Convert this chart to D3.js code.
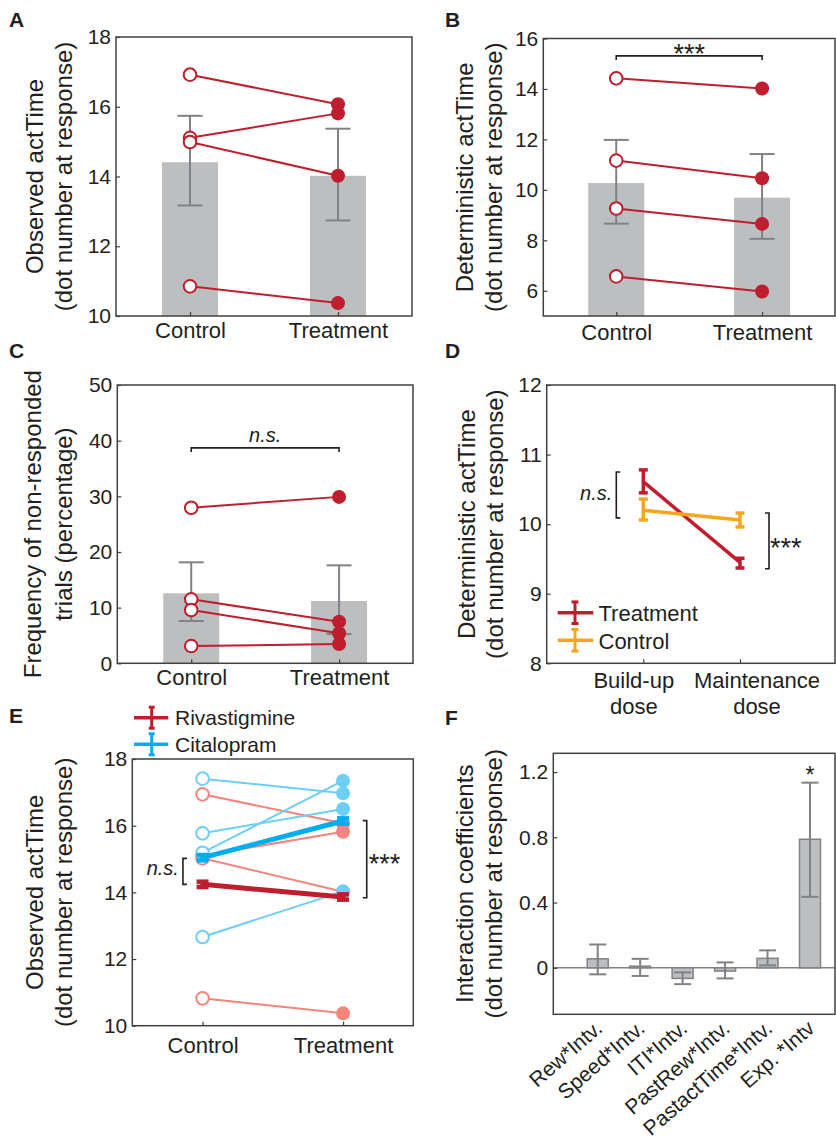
<!DOCTYPE html>
<html><head><meta charset="utf-8">
<script src="https://cdn.jsdelivr.net/npm/d3@7"></script>
<style>body{margin:0;background:#fff} text{font-family:'Liberation Sans',Arial,Helvetica,sans-serif}</style>
</head><body>
<script>
// ---------------- DATA ----------------
const groups = ["Control", "Treatment"];

// Panel A: Observed actTime
const aMeans = [14.41, 14.02];
const aErrLow = [13.17, 12.74];
const aErrHigh = [15.74, 15.37];
const aControl = [16.92, 15.11, 14.99, 10.85];
const aTreatment = [16.07, 15.81, 14.02, 10.37];
const aYTicks = [10, 12, 14, 16, 18];

// Panel B: Deterministic actTime
const bMeans = [10.27, 9.69];
const bErrLow = [8.66, 8.06];
const bErrHigh = [11.98, 11.42];
const bControl = [14.42, 11.16, 9.26, 6.57];
const bTreatment = [14.02, 10.46, 8.65, 5.97];
const bYTicks = [6, 8, 10, 12, 14, 16];
const bSigLevel = 15.31;

// Panel C: Frequency of non-responded trials
const cMeans = [12.57, 11.19];
const cErrLow = [7.6, 5.27];
const cErrHigh = [18.14, 17.6];
const cControl = [27.95, 11.5, 9.58, 3.1];
const cTreatment = [29.9, 7.47, 5.39, 3.47];
const cYTicks = [0, 10, 20, 30, 40, 50];
const cSigLevel = 38.7;

// Panel D: dose phases
const doses = ["Build-up", "Maintenance"];
const doseLine2 = ["dose", "dose"];
const dTreatMean = [10.61, 9.45];
const dTreatLow = [10.45, 9.37];
const dTreatHigh = [10.78, 9.51];
const dCtrlMean = [10.20, 10.06];
const dCtrlLow = [10.06, 9.96];
const dCtrlHigh = [10.36, 10.16];
const dYTicks = [8, 9, 10, 11, 12];
const dNsRange = [10.09, 10.75];
const dSigRange = [9.36, 10.16];

// Panel E: Rivastigmine vs Citalopram
const eRivControl = [16.94, 15.10, 15.02, 10.82];
const eRivTreatment = [16.07, 15.82, 14.02, 10.37];
const eCitControl = [17.41, 15.77, 15.19, 12.66];
const eCitTreatment = [16.97, 16.50, 17.35, 14.03];
const eRivMean = [14.24, 13.86];
const eCitMean = [15.04, 16.14];
const eMeanErr = [0.08, 0.08];
const eYTicks = [10, 12, 14, 16, 18];
const eNsRange = [14.24, 15.02];
const eSigRange = [13.84, 16.15];

// Panel F: interaction coefficients
const fTerms = ["Rew*Intv.", "Speed*Intv.", "ITI*Intv.", "PastRew*Intv.", "PastactTime*Intv.", "Exp. *Intv"];
const fCoef = [0.055, 0.010, -0.065, -0.020, 0.058, 0.788];
const fLow = [-0.040, -0.050, -0.100, -0.065, 0.015, 0.435];
const fHigh = [0.143, 0.055, -0.028, 0.033, 0.107, 1.135];
const fYTicks = [0, 0.4, 0.8, 1.2];

// ---------------- DRAWING ----------------
const COL = {red:"#be1e2d", salmon:"#f3857c", lblue:"#6dcff6", blue:"#00aeef", orange:"#f8a51e",
             bar:"#bcbec0", err:"#808285", axis:"#404040", text:"#231f20"};
const FONT = "'Liberation Sans', Arial, Helvetica, sans-serif";

const svg = d3.select("body").append("svg").attr("width", 836).attr("height", 1143).style("display","block");

function yAxis(y, x0, ticks, fmt) {
  const g = svg.append("g").attr("transform", `translate(${x0},0)`)
    .call(d3.axisLeft(y).tickValues(ticks).tickSizeInner(-4).tickSizeOuter(0).tickPadding(5).tickFormat(fmt || d3.format("d")));
  g.attr("font-family", FONT).attr("font-size", 21);
  g.select(".domain").remove();
  g.selectAll(".tick line").attr("stroke", COL.axis).attr("stroke-width", 1.2);
  g.selectAll(".tick text").attr("fill", COL.text);
  return g;
}
function xAxis(x, yB, base, fs) {
  const g = svg.append("g").attr("transform", `translate(0,${yB})`)
    .call(d3.axisBottom(x).tickSizeInner(-4).tickSizeOuter(0));
  g.attr("font-family", FONT).attr("font-size", fs || 22);
  g.select(".domain").remove();
  g.selectAll(".tick line").attr("stroke", COL.axis).attr("stroke-width", 1.2);
  g.selectAll(".tick text").attr("fill", COL.text).attr("y", base).attr("dy", 0);
  return g;
}
function box(x0, x1, y0, y1) {
  svg.append("rect").attr("x", x0).attr("y", y0).attr("width", x1 - x0).attr("height", y1 - y0)
    .attr("fill", "none").attr("stroke", COL.axis).attr("stroke-width", 1.5);
}
function yLabel(lines, xs, yc) {
  lines.forEach((t, i) => svg.append("text")
    .attr("transform", `translate(${xs[i]},${yc}) rotate(-90)`)
    .attr("text-anchor", "middle").attr("font-size", 24).attr("fill", COL.text).text(t));
}
function letter(t, x, y) {
  svg.append("text").attr("x", x).attr("y", y).attr("font-size", 21).attr("font-weight", "bold").attr("fill", COL.text).text(t);
}
function errBar(g, x, yLo, yHi, cap, color, sw) {
  g.append("line").attr("x1", x).attr("x2", x).attr("y1", yLo).attr("y2", yHi).attr("stroke", color).attr("stroke-width", sw);
  [yLo, yHi].forEach(yy => g.append("line").attr("x1", x - cap / 2).attr("x2", x + cap / 2).attr("y1", yy).attr("y2", yy)
    .attr("stroke", color).attr("stroke-width", sw));
}

function pairedPanel(c) {
  const y = d3.scaleLinear().domain(c.domain).range([c.y1, c.y0]);
  const x = d3.scalePoint().domain(groups).range([c.x0, c.x1]).padding(0.5);
  const g = svg.append("g");
  groups.forEach((k, i) => {
    g.append("rect").attr("x", x(k) - 28).attr("width", 56).attr("y", y(c.means[i]))
      .attr("height", c.y1 - y(c.means[i])).attr("fill", COL.bar);
  });
  groups.forEach((k, i) => errBar(g, x(k), y(c.lo[i]), y(c.hi[i]), 25, COL.err, 2));
  c.ctrl.forEach((v, i) => g.append("line").attr("x1", x("Control")).attr("y1", y(v))
    .attr("x2", x("Treatment")).attr("y2", y(c.trt[i])).attr("stroke", COL.red).attr("stroke-width", 2));
  c.ctrl.forEach(v => g.append("circle").attr("cx", x("Control")).attr("cy", y(v)).attr("r", 6.3)
    .attr("fill", "#fff").attr("stroke", COL.red).attr("stroke-width", 2));
  c.trt.forEach(v => g.append("circle").attr("cx", x("Treatment")).attr("cy", y(v)).attr("r", 7)
    .attr("fill", COL.red));
  if (c.sig != null) {
    const yy = y(c.sig);
    g.append("path").attr("d", `M${x("Control")},${yy + 4}V${yy}H${x("Treatment")}V${yy + 4}`)
      .attr("fill", "none").attr("stroke", COL.text).attr("stroke-width", 1.6);
    g.append("text").attr("x", (x("Control") + x("Treatment")) / 2).attr("y", yy + c.sigDy)
      .attr("text-anchor", "middle").attr("font-size", c.sigSize).attr("font-style", c.sigItalic ? "italic" : "normal")
      .attr("fill", COL.text).text(c.sigText);
  }
  yAxis(y, c.x0, c.ticks);
  xAxis(x, c.y1, c.xBase);
  box(c.x0, c.x1, c.y0, c.y1);
  yLabel(c.label, c.labelX, (c.y0 + c.y1) / 2);
  letter(c.letter, c.lx, c.ly);
}

pairedPanel({x0:116, x1:412, y0:37, y1:316, domain:[10,18], ticks:aYTicks, means:aMeans, lo:aErrLow, hi:aErrHigh,
  ctrl:aControl, trt:aTreatment, sig:null, xBase:22, label:["Observed actTime","(dot number at response)"],
  labelX:[43, 72], letter:"A", lx:9, ly:27});
pairedPanel({x0:543.3, x1:835, y0:38.5, y1:316, domain:[5,16], ticks:bYTicks, means:bMeans, lo:bErrLow, hi:bErrHigh,
  ctrl:bControl, trt:bTreatment, sig:bSigLevel, sigText:"***", sigDy:7, sigSize:27, sigItalic:false, xBase:24,
  label:["Deterministic actTime","(dot number at response)"], labelX:[473, 502], letter:"B", lx:445, ly:27});
pairedPanel({x0:117.3, x1:413, y0:385, y1:663.3, domain:[0,50], ticks:cYTicks, means:cMeans, lo:cErrLow, hi:cErrHigh,
  ctrl:cControl, trt:cTreatment, sig:cSigLevel, sigText:"n.s.", sigDy:-6, sigSize:20, sigItalic:true, xBase:22,
  label:["Frequency of non-responded","trials (percentage)"], labelX:[41, 72], letter:"C", lx:9, ly:358});

// ---- Panel D ----
(function(){
  const x0 = 546.7, x1 = 835, y0 = 385, y1 = 663.3;
  const y = d3.scaleLinear().domain([8, 12]).range([y1, y0]);
  const x = d3.scalePoint().domain(doses).range([643.3, 740]);
  const g = svg.append("g");
  const series = [
    {mean:dTreatMean, lo:dTreatLow, hi:dTreatHigh, color:COL.red, name:"Treatment"},
    {mean:dCtrlMean, lo:dCtrlLow, hi:dCtrlHigh, color:COL.orange, name:"Control"}];
  series.forEach(s => {
    g.append("path").attr("d", d3.line().x((v, i) => x(doses[i])).y(v => y(v))(s.mean))
      .attr("fill", "none").attr("stroke", s.color).attr("stroke-width", 3.5);
    s.mean.forEach((v, i) => errBar(g, x(doses[i]), y(s.lo[i]), y(s.hi[i]), 9, s.color, 3.5));
  });
  // brackets
  const bx = x(doses[0]) - 27;
  g.append("path").attr("d", `M${bx + 4},${y(dNsRange[1])}H${bx}V${y(dNsRange[0])}H${bx + 4}`)
    .attr("fill", "none").attr("stroke", COL.text).attr("stroke-width", 1.6);
  g.append("text").attr("x", bx - 4).attr("y", (y(dNsRange[0]) + y(dNsRange[1])) / 2 + 5.5)
    .attr("text-anchor", "end").attr("font-size", 20).attr("font-style", "italic").attr("fill", COL.text).text("n.s.");
  const sx = x(doses[1]) + 29;
  g.append("path").attr("d", `M${sx - 4},${y(dSigRange[1])}H${sx}V${y(dSigRange[0])}H${sx - 4}`)
    .attr("fill", "none").attr("stroke", COL.text).attr("stroke-width", 1.6);
  g.append("text").attr("x", sx + 1).attr("y", (y(dSigRange[0]) + y(dSigRange[1])) / 2 + 16.5)
    .attr("font-size", 27).attr("fill", COL.text).text("***");
  // legend
  series.forEach((s, i) => {
    const ly = 612.7 + i * 27.5;
    g.append("line").attr("x1", 557.7).attr("x2", 593.3).attr("y1", ly).attr("y2", ly).attr("stroke", s.color).attr("stroke-width", 3.5);
    errBar(g, 575, ly + 10.8, ly - 10.8, 7, s.color, 3);
    g.append("text").attr("x", 598.5).attr("y", ly + 8.5).attr("font-size", 22).attr("fill", COL.text).text(s.name);
  });
  yAxis(y, x0, dYTicks);
  const xa = xAxis(x, y1, 25);
  xa.selectAll(".tick text").remove();
  const off = [-9.5, 17];
  doses.forEach((d, i) => {
    svg.append("text").attr("x", x(d) + off[i]).attr("y", 688).attr("text-anchor", "middle")
      .attr("font-size", 22).attr("fill", COL.text).text(d);
    svg.append("text").attr("x", x(d) + off[i]).attr("y", 714).attr("text-anchor", "middle")
      .attr("font-size", 22).attr("fill", COL.text).text(doseLine2[i]);
  });
  box(x0, x1, y0, y1);
  yLabel(["Deterministic actTime", "(dot number at response)"], [475, 503], (y0 + y1) / 2);
  letter("D", 445, 358);
})();

// ---- Panel E ----
(function(){
  const x0 = 132.3, x1 = 413.3, y0 = 759, y1 = 1025.7;
  const y = d3.scaleLinear().domain([10, 18]).range([y1, y0]);
  const x = d3.scalePoint().domain(groups).range([x0, x1]).padding(0.5);
  const g = svg.append("g");
  function subjects(ctrl, trt, color) {
    ctrl.forEach((v, i) => g.append("line").attr("x1", x("Control")).attr("y1", y(v)).attr("x2", x("Treatment"))
      .attr("y2", y(trt[i])).attr("stroke", color).attr("stroke-width", 2));
    ctrl.forEach(v => g.append("circle").attr("cx", x("Control")).attr("cy", y(v)).attr("r", 6.3)
      .attr("fill", "#fff").attr("stroke", color).attr("stroke-width", 2));
    trt.forEach(v => g.append("circle").attr("cx", x("Treatment")).attr("cy", y(v)).attr("r", 7).attr("fill", color));
  }
  subjects(eRivControl, eRivTreatment, COL.salmon);
  subjects(eCitControl, eCitTreatment, COL.lblue);
  function meanLine(m, color) {
    g.append("line").attr("x1", x("Control")).attr("y1", y(m[0])).attr("x2", x("Treatment")).attr("y2", y(m[1]))
      .attr("stroke", color).attr("stroke-width", 5);
    m.forEach((v, i) => errBar(g, x(groups[i]), y(v - eMeanErr[i]), y(v + eMeanErr[i]), 12, color, 4.5));
  }
  meanLine(eRivMean, COL.red);
  meanLine(eCitMean, COL.blue);
  const bx = x("Control") - 19.6;
  g.append("path").attr("d", `M${bx + 4},${y(eNsRange[1])}H${bx}V${y(eNsRange[0])}H${bx + 4}`)
    .attr("fill", "none").attr("stroke", COL.text).attr("stroke-width", 1.6);
  g.append("text").attr("x", bx - 4).attr("y", (y(eNsRange[0]) + y(eNsRange[1])) / 2 + 4)
    .attr("text-anchor", "end").attr("font-size", 20).attr("font-style", "italic").attr("fill", COL.text).text("n.s.");
  const sx = x("Treatment") + 23.7;
  g.append("path").attr("d", `M${sx - 4},${y(eSigRange[1])}H${sx}V${y(eSigRange[0])}H${sx - 4}`)
    .attr("fill", "none").attr("stroke", COL.text).attr("stroke-width", 1.6);
  g.append("text").attr("x", sx + 2).attr("y", (y(eSigRange[0]) + y(eSigRange[1])) / 2 + 13.5)
    .attr("font-size", 27).attr("fill", COL.text).text("***");
  // legend
  [["Rivastigmine", COL.red], ["Citalopram", COL.blue]].forEach((d, i) => {
    const ly = 717.7 + i * 26.6;
    g.append("line").attr("x1", 134).attr("x2", 168.3).attr("y1", ly).attr("y2", ly).attr("stroke", d[1]).attr("stroke-width", 3.5);
    errBar(g, 151.7, ly + 10.5, ly - 10.5, 6, d[1], 3);
    g.append("text").attr("x", 175).attr("y", ly + 7.5).attr("font-size", 21).attr("fill", COL.text).text(d[0]);
  });
  yAxis(y, x0, eYTicks);
  xAxis(x, y1, 27);
  box(x0, x1, y0, y1);
  yLabel(["Observed actTime", "(dot number at response)"], [43, 72], (y0 + y1) / 2);
  letter("E", 9, 723);
})();

// ---- Panel F ----
(function(){
  const x0 = 553.3, x1 = 835, y0 = 753.3, y1 = 1014.3;
  const y = d3.scaleLinear().domain([-0.285, 1.315]).range([y1, y0]);
  const x = d3.scalePoint().domain(fTerms).range([597.7, 810]);
  const g = svg.append("g");
  g.append("line").attr("x1", x0).attr("x2", x1).attr("y1", y(0)).attr("y2", y(0)).attr("stroke", COL.err).attr("stroke-width", 1.6);
  fTerms.forEach((t, i) => {
    const v = fCoef[i];
    g.append("rect").attr("x", x(t) - 10.5).attr("width", 21).attr("y", y(Math.max(0, v)))
      .attr("height", Math.abs(y(v) - y(0))).attr("fill", COL.bar).attr("stroke", COL.err).attr("stroke-width", 1.5);
  });
  fTerms.forEach((t, i) => errBar(g, x(t), y(fLow[i]), y(fHigh[i]), 17, COL.err, 2));
  g.append("text").attr("x", x(fTerms[5])).attr("y", 783).attr("text-anchor", "middle").attr("font-size", 23)
    .attr("fill", COL.text).text("*");
  yAxis(y, x0, fYTicks, d => d === 0 ? "0" : d3.format(".1f")(d));
  fTerms.forEach(t => svg.append("text")
    .attr("transform", `translate(${x(t) + 6},${y1 + 16}) rotate(-41)`)
    .attr("text-anchor", "end").attr("font-size", 21).attr("fill", COL.text).text(t));
  box(x0, x1, y0, y1);
  yLabel(["Interaction coefficients", "(dot number at response)"], [473, 502], (y0 + y1) / 2);
  letter("F", 445, 725);
})();
</script>
</body></html>
